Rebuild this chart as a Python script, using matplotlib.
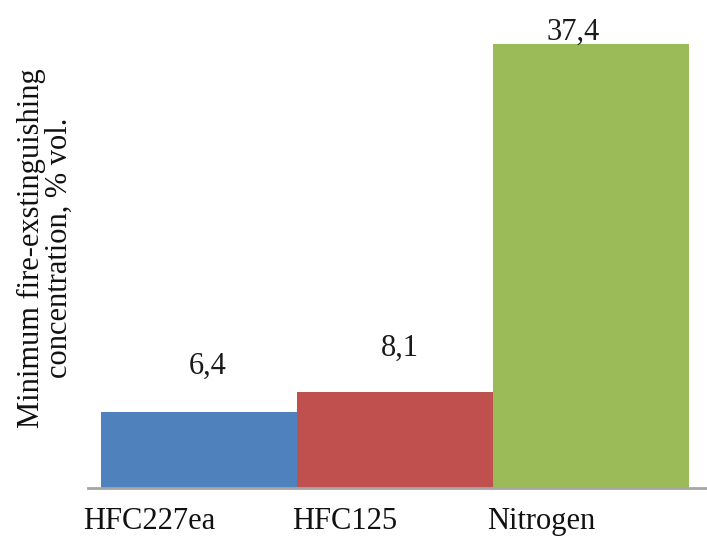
import matplotlib
matplotlib.use("Agg")
import matplotlib.pyplot as plt
from matplotlib.transforms import ScaledTranslation

categories = ["HFC227ea", "HFC125", "Nitrogen"]
values = [6.4, 8.1, 37.4]
value_labels = ["6,4", "8,1", "37,4"]
colors = ["#4F81BD", "#C0504D", "#9BBB59"]
# hand-placed offsets (pixels) of the value labels relative to each bar top
label_offsets = [(9, 38), (5, 36), (-18, 4)]

plt.rcParams["font.family"] = ["Liberation Serif", "DejaVu Serif"]

fig = plt.figure(figsize=(7.07, 5.36), dpi=100)
ax = fig.add_axes([88 / 707, 48 / 536, 619 / 707, 488 / 536])

x = range(len(categories))
ax.bar(x, values, width=1.0, color=colors, edgecolor="none", zorder=2)

for i, (v, lab, off) in enumerate(zip(values, value_labels, label_offsets)):
    ax.annotate(lab, xy=(i, v), xytext=off, textcoords="offset pixels",
                ha="center", va="baseline", fontsize=22, color="#1a1a1a")

ax.set_xlim(-0.566, 2.592)
ax.set_ylim(0, 41.1)

for s in ["top", "right", "left"]:
    ax.spines[s].set_visible(False)
ax.spines["bottom"].set_color("#A6A6A6")
ax.spines["bottom"].set_linewidth(2)
ax.spines["bottom"].set_zorder(3)

ax.set_yticks([])
ax.set_xticks(list(x))
ax.set_xticklabels(categories, fontsize=22, color="#111111")
ax.tick_params(axis="x", length=0, pad=13.5)
shift = ScaledTranslation(-50 / 100, 0, fig.dpi_scale_trans)
for t in ax.get_xticklabels():
    t.set_transform(t.get_transform() + shift)

fig.text(45 / 707, 1 - 248 / 536,
         "Minimum fire-exstinguishing\nconcentration, % vol.",
         rotation=90, ha="center", va="center", fontsize=22,
         linespacing=0.95, color="#111111")

fig.savefig("out.png", dpi=100)
